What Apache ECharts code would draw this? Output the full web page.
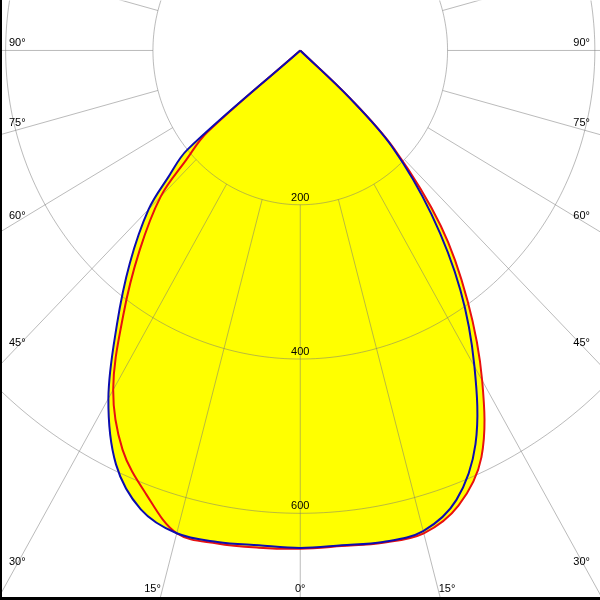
<!DOCTYPE html>
<html><head><meta charset="utf-8">
<script src="https://cdn.jsdelivr.net/npm/echarts@6/dist/echarts.min.js"></script>
<style>html,body{margin:0;padding:0;background:#fff}#c{width:600px;height:600px}</style>
</head><body><div id="c"></div>
<script>
// Gamma angles (degrees from nadir)
const angles = [0, 5, 10, 15, 20, 25, 30, 35, 40, 45, 47.5, 50, 52.5, 55, 90];
// Luminous intensity (cd) - red curve (C0 / C180)
const redRight = [646, 645, 648, 648, 628, 582, 494, 396, 297, 180, 92, 0, 0, 0, 0];
const redLeft  = [646, 647, 649, 648, 612, 571, 508, 419, 340, 268, 210, 165, 0, 0, 0];
// Luminous intensity (cd) - blue curve (C90 / C270)
const blueRight = [645, 644, 647, 645, 620, 563, 473, 379, 277, 176, 90, 0, 0, 0, 0];
const blueLeft  = [645, 644, 647, 648, 633, 592, 521, 434, 360, 291, 243, 200, 0, 0, 0];
// Grid
const ringValues = [200, 400, 600];
const spokeAngles = [0, 15, 30, 45, 60, 75, 90, 105, 120, 135, 150, 165, 180];
const angleTickValues = [0, 15, 30, 45, 60, 75, 90];
const angleTickLabels = ['0°', '15°', '30°', '45°', '60°', '75°', '90°'];

const FONT = '11px "Liberation Sans", Arial, sans-serif';
const GRID_COLOR = 'rgba(120,120,120,0.5)';
const SMOOTH = 0.35;

function toXY(r, deg, side) {
  const a = deg * Math.PI / 180;
  return [side * r * Math.sin(a), r * Math.cos(a)];
}
function curve(right, left) {
  const pts = [];
  for (let i = angles.length - 1; i >= 0; i--) pts.push(toXY(left[i], angles[i], -1));
  for (let i = 1; i < angles.length; i++) pts.push(toXY(right[i], angles[i], 1));
  return pts;
}
const curves = [
  {name: 'C0-C180', pts: curve(redRight, redLeft), color: '#e81010'},
  {name: 'C90-C270', pts: curve(blueRight, blueLeft), color: '#0c0cb0'}
];

const chart = echarts.init(document.getElementById('c'), null, {renderer: 'canvas'});
const option = {
  animation: false,
  backgroundColor: '#fff',
  grid: {left: 0.5, top: 0.5, width: 600, height: 600, containLabel: false},
  xAxis: {type: 'value', min: -407, max: 407, show: false},
  yAxis: {type: 'value', min: -64.8, max: 712.4, inverse: true, show: false},
  series: [
    {
      type: 'custom', name: 'fill', z: 1, clip: true,
      data: curves.map(() => [0, 0]),
      renderItem: function (params, api) {
        const pts = curves[params.dataIndex].pts.map(p => api.coord(p));
        return {type: 'polygon', shape: {points: pts, smooth: SMOOTH}, style: {fill: '#ffff00', stroke: null}};
      }
    },
    {
      type: 'custom', name: 'rings', z: 2, clip: true,
      data: ringValues.map(v => [v]),
      renderItem: function (params, api) {
        const r = api.value(0);
        const pts = [];
        for (let t = 0; t <= 360; t += 1) pts.push(api.coord(toXY(r, t, 1)));
        const lp = api.coord([0, r]);
        return {type: 'group', children: [
          {type: 'polyline', shape: {points: pts}, style: {stroke: GRID_COLOR, lineWidth: 1, fill: null}},
          {type: 'text', x: lp[0], y: lp[1] - 7, z2: 10,
            style: {text: String(r), fill: '#000', font: FONT, align: 'center', verticalAlign: 'middle'}}
        ]};
      }
    },
    {
      type: 'custom', name: 'spokes', z: 2, clip: true,
      data: spokeAngles.map(v => [v]),
      renderItem: function (params, api) {
        const a = api.value(0);
        const sides = (a === 0 || a === 180) ? [1] : [1, -1];
        return {type: 'group', children: sides.map(s => {
          const p1 = api.coord(toXY(ringValues[0], a, s));
          const p2 = api.coord(toXY(1400, a, s));
          return {type: 'line', shape: {x1: p1[0], y1: p1[1], x2: p2[0], y2: p2[1]},
            style: {stroke: GRID_COLOR, lineWidth: 1}};
        })};
      }
    },
    {
      type: 'custom', name: 'curves', z: 3, clip: true,
      data: curves.map(() => [0, 0]),
      renderItem: function (params, api) {
        const c = curves[params.dataIndex];
        const pts = c.pts.map(p => api.coord(p));
        return {type: 'polyline', shape: {points: pts, smooth: SMOOTH},
          style: {stroke: c.color, lineWidth: 2, fill: null, lineJoin: 'round'}};
      }
    }
  ]
};
chart.setOption(option);

// angle labels where the ray leaves the picture
const ctr = chart.convertToPixel({xAxisIndex: 0, yAxisIndex: 0}, [0, 0]);
const W = 600, H = 600;
const elems = [];
angleTickValues.forEach((deg, i) => {
  const a = deg * Math.PI / 180;
  [-1, 1].forEach(s => {
    if (deg === 0 && s === 1) return;
    const dx = Math.sin(a), dy = Math.cos(a);
    const tSide = dx > 1e-9 ? (W / 2) / dx : Infinity;
    const tBot = dy > 1e-9 ? (H - ctr[1]) / dy : Infinity;
    if (tSide < tBot) {
      const y = ctr[1] + tSide * dy - 8;
      elems.push({type: 'text', x: s < 0 ? 9 : W - 10, y: y,
        style: {text: angleTickLabels[i], fill: '#000', font: FONT, align: s < 0 ? 'left' : 'right', verticalAlign: 'middle'}, z: 100});
    } else {
      const x = ctr[0] + s * tBot * dx;
      elems.push({type: 'text', x: deg === 0 ? ctr[0] : x - 0.5, y: 589,
        style: {text: angleTickLabels[i], fill: '#000', font: FONT, align: 'center', verticalAlign: 'middle'}, z: 100});
    }
  });
});
elems.push({type: 'rect', shape: {x: 0, y: 0, width: 2, height: H}, style: {fill: '#000'}, z: 100});
elems.push({type: 'rect', shape: {x: 0, y: H - 3, width: W, height: 3}, style: {fill: '#000'}, z: 100});
chart.setOption({graphic: {elements: elems}});
</script>
</body></html>
